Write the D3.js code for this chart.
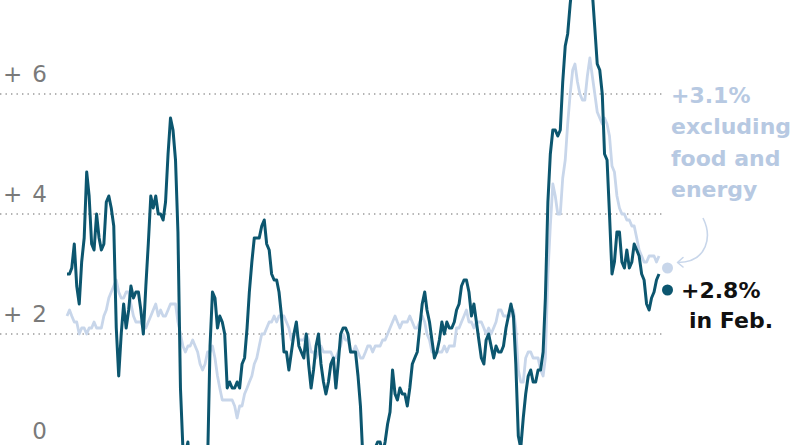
<!DOCTYPE html>
<html><head><meta charset="utf-8">
<script src="https://cdn.jsdelivr.net/npm/d3@7"></script>
<style>html,body{margin:0;padding:0;background:#fff;} svg{display:block;}</style>
</head><body><svg id="c" width="800" height="445"></svg>
<script>
// Monthly year-over-year change in consumer prices, Jan 2005 – Jan 2025
const startMonth = "2005-01";
const headline = [
 3.0,3.0,3.1,3.5,2.8,2.5,3.2,3.6,4.7,4.3,3.5,3.4,
 4.0,3.6,3.4,3.5,4.2,4.3,4.1,3.8,2.1,1.3,2.0,2.5,
 2.1,2.4,2.8,2.6,2.7,2.7,2.4,2.0,2.8,3.5,4.3,4.1,
 4.3,4.0,4.0,3.9,4.2,5.0,5.6,5.4,4.9,3.7,1.1,0.1,
 0.0,0.2,-0.4,-0.7,-1.3,-1.4,-2.1,-1.5,-1.3,-0.2,1.8,2.7,
 2.6,2.1,2.3,2.2,2.0,1.1,1.2,1.1,1.1,1.2,1.1,1.5,
 1.6,2.1,2.7,3.2,3.6,3.6,3.6,3.8,3.9,3.5,3.4,3.0,
 2.9,2.9,2.7,2.3,1.7,1.7,1.4,1.7,2.0,2.2,1.8,1.7,
 1.6,2.0,1.5,1.1,1.4,1.8,2.0,1.5,1.2,1.0,1.2,1.5,
 1.6,1.1,1.5,2.0,2.1,2.1,2.0,1.7,1.7,1.7,1.3,0.8,
 -0.1,0.0,-0.1,-0.2,0.0,0.1,0.2,0.2,0.0,0.2,0.5,0.7,
 1.4,1.0,0.9,1.1,1.0,1.0,0.8,1.1,1.5,1.6,1.7,2.1,
 2.5,2.7,2.4,2.2,1.9,1.6,1.7,1.9,2.2,2.0,2.2,2.1,
 2.1,2.2,2.4,2.5,2.8,2.9,2.9,2.7,2.3,2.5,2.2,1.9,
 1.6,1.5,1.9,2.0,1.8,1.6,1.8,1.7,1.7,1.8,2.1,2.3,
 2.5,2.3,1.5,0.3,0.1,0.6,1.0,1.3,1.4,1.2,1.2,1.4,
 1.4,1.7,2.6,4.2,5.0,5.4,5.4,5.3,5.4,6.2,6.8,7.0,
 7.5,7.9,8.5,8.3,8.6,9.1,8.5,8.3,8.2,7.7,7.1,6.5,
 6.4,6.0,5.0,4.9,4.0,3.0,3.2,3.7,3.7,3.2,3.1,3.4,
 3.1,3.2,3.5,3.4,3.3,3.0,2.9,2.5,2.4,2.6,2.7,2.9,
 3.0
];
const core = [
 2.3,2.4,2.3,2.2,2.2,2.0,2.1,2.1,2.0,2.1,2.1,2.2,
 2.1,2.1,2.1,2.3,2.4,2.6,2.7,2.8,2.9,2.7,2.6,2.6,
 2.7,2.7,2.5,2.3,2.2,2.2,2.2,2.1,2.1,2.2,2.3,2.4,
 2.5,2.3,2.4,2.3,2.3,2.4,2.5,2.5,2.5,2.2,2.0,1.8,
 1.7,1.8,1.8,1.9,1.8,1.7,1.5,1.4,1.5,1.7,1.7,1.8,
 1.6,1.3,1.1,0.9,0.9,0.9,0.9,0.9,0.8,0.6,0.8,0.8,
 1.0,1.1,1.2,1.3,1.5,1.6,1.8,2.0,2.0,2.1,2.2,2.2,
 2.3,2.2,2.3,2.3,2.3,2.2,2.1,1.9,2.0,2.0,1.9,1.9,
 1.9,2.0,1.9,1.7,1.7,1.6,1.7,1.8,1.7,1.7,1.7,1.7,
 1.6,1.6,1.7,1.8,2.0,1.9,1.9,1.7,1.7,1.8,1.7,1.6,
 1.6,1.7,1.8,1.8,1.7,1.8,1.8,1.8,1.9,1.9,2.0,2.1,
 2.2,2.3,2.2,2.1,2.2,2.2,2.2,2.3,2.2,2.1,2.1,2.2,
 2.3,2.2,2.0,1.9,1.7,1.7,1.7,1.7,1.7,1.8,1.7,1.8,
 1.8,1.8,2.1,2.1,2.2,2.3,2.4,2.2,2.2,2.1,2.2,2.2,
 2.2,2.1,2.0,2.1,2.0,2.1,2.2,2.4,2.4,2.3,2.3,2.3,
 2.3,2.4,2.1,1.4,1.2,1.2,1.6,1.7,1.7,1.6,1.6,1.6,
 1.4,1.3,1.6,3.0,3.8,4.5,4.3,4.0,4.0,4.6,4.9,5.5,
 6.0,6.4,6.5,6.2,6.0,5.9,5.9,6.3,6.6,6.3,6.0,5.7,
 5.6,5.5,5.6,5.5,5.3,4.8,4.7,4.3,4.1,4.0,4.0,3.9,
 3.9,3.8,3.8,3.6,3.4,3.3,3.2,3.2,3.3,3.3,3.3,3.2,
 3.3
];
const yTicks = [0, 2, 4, 6];
const latestMonth = "2025-02";
const latestHeadline = 2.8;
const latestCore = 3.1;
const coreLabel = ["+3.1%", "excluding", "food and", "energy"];
const headlineLabel = ["+2.8%", "in Feb."];

const parse = d3.timeParse("%Y-%m");
const t0 = parse(startMonth);
const months = d3.timeMonth.range(t0, d3.timeMonth.offset(t0, headline.length));
const headData = months.map((d, i) => ({date: d, v: headline[i]}));
const coreData = months.map((d, i) => ({date: d, v: core[i]}));

const svg = d3.select("#c");
const x = d3.scaleTime().domain([t0, months[months.length - 1]]).range([67, 659]);
const y = d3.scaleLinear().domain([0, 6]).range([454, 94]);

const DARK = "#0c566f", LIGHT = "#c8d6ea", LIGHTTEXT = "#b7c9e2";

// gridlines
svg.append("g").selectAll("line").data(yTicks).join("line")
  .attr("x1", 0).attr("x2", 662)
  .attr("y1", d => y(d)).attr("y2", d => y(d))
  .attr("stroke", "#9a9a9a").attr("stroke-width", 1.4)
  .attr("stroke-dasharray", "1.4,4.1");

// tick labels
const lab = svg.append("g").attr("font-family", "'DejaVu Sans', sans-serif")
  .attr("font-size", 23).attr("fill", "#7a7a7a");
lab.selectAll("text.plus").data(yTicks.filter(d => d > 0)).join("text")
  .attr("class", "plus").attr("x", 3).attr("y", d => y(d) - 12).text("+");
lab.selectAll("text.num").data(yTicks).join("text")
  .attr("class", "num").attr("x", 47).attr("y", d => Math.min(y(d) - 12, 439))
  .attr("text-anchor", "end").text(d => d);

const line = d3.line().x(d => x(d.date)).y(d => y(d.v)).curve(d3.curveLinear);

svg.append("path").datum(coreData).attr("d", line)
  .attr("fill", "none").attr("stroke", LIGHT).attr("stroke-width", 2.8)
  .attr("stroke-linejoin", "round");
svg.append("path").datum(headData).attr("d", line)
  .attr("fill", "none").attr("stroke", DARK).attr("stroke-width", 3)
  .attr("stroke-linejoin", "round");

// latest dots
const lx = x(parse(latestMonth)) + 6;
svg.append("circle").attr("cx", lx).attr("cy", y(latestCore)).attr("r", 5.5).attr("fill", LIGHT);
svg.append("circle").attr("cx", lx).attr("cy", y(latestHeadline) + 4).attr("r", 5.5).attr("fill", DARK);

// arrow
svg.append("path")
  .attr("d", "M703,218 C712,236 708,262 678,262.5")
  .attr("fill", "none").attr("stroke", LIGHT).attr("stroke-width", 1.6);
svg.append("path")
  .attr("d", "M683,257.5 L677.5,262.5 L683,267")
  .attr("fill", "none").attr("stroke", LIGHT).attr("stroke-width", 1.6)
  .attr("stroke-linejoin", "round").attr("stroke-linecap", "round");

// annotations
const ann = svg.append("g").attr("font-family", "'DejaVu Sans', sans-serif")
  .attr("font-weight", "bold").attr("font-size", 22);
ann.selectAll("text.core").data(coreLabel).join("text")
  .attr("class", "core").attr("x", 671).attr("y", (d, i) => 103 + i * 31.3)
  .attr("fill", LIGHTTEXT).text(d => d);
ann.selectAll("text.head").data(headlineLabel).join("text")
  .attr("class", "head").attr("x", (d, i) => i === 0 ? 681 : 689)
  .attr("y", (d, i) => 298 + i * 30)
  .attr("fill", "#111").text(d => d);
</script></body></html>
